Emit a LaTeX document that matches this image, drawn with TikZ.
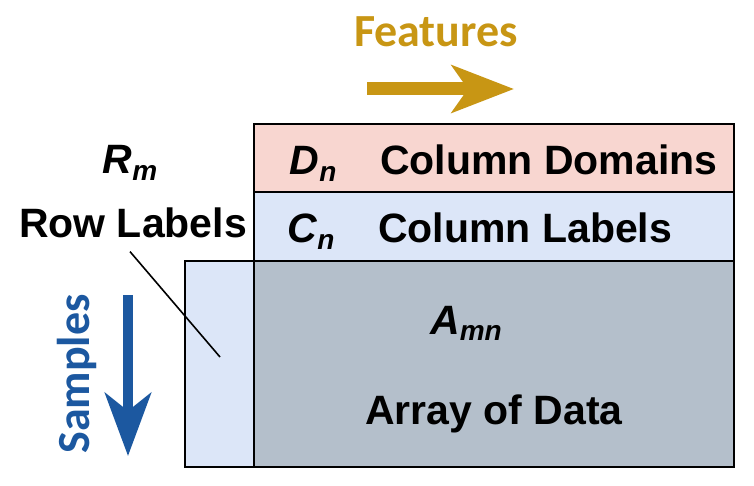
\documentclass[tikz,border=0pt]{standalone}
\usepackage{fontspec}
\setmainfont{Liberation Sans}
\newfontfamily\calibri{Carlito}
\usetikzlibrary{arrows.meta,positioning}

\definecolor{featgold}{RGB}{200,150,20}
\definecolor{sampblue}{RGB}{28,88,160}
\definecolor{dompink}{RGB}{248,214,208}
\definecolor{lablblue}{RGB}{220,230,248}
\definecolor{datagray}{RGB}{180,191,203}

\newcommand{\symb}[2]{\textit{#1}\raisebox{-0.3ex}{\fontsize{28}{30}\selectfont\textit{#2}}}

\tikzset{
  box/.style={draw=black, line width=2.6pt},
  bigtxt/.style={font=\fontsize{41}{48}\selectfont\bfseries, inner sep=0pt},
  axtxt/.style={font=\fontsize{46}{54}\selectfont\calibri\bfseries, inner sep=0pt},
}

\begin{document}
\begin{tikzpicture}[x=1pt,y=-1pt]

      \useasboundingbox (0,0) rectangle (754,486);
      \fill[white] (0,0) rectangle (754,486);

      % Draw the table blocks
      \draw[box, fill=dompink]  (254,124) rectangle (734,192);
      \draw[box, fill=lablblue] (254,192) rectangle (734,261);
      \draw[box, fill=lablblue] (185,261) rectangle (254,467);
      \draw[box, fill=datagray] (254,261) rectangle (734,467);

      \node[bigtxt, anchor=base] (dn) at (313,175) {\symb{D}{n}};
      \node[bigtxt, anchor=base west] (dom) at (380,175) {Column Domains};
      \node[bigtxt, anchor=base] (cn) at (311,243) {\symb{C}{n}};
      \node[bigtxt, anchor=base west] (lab) at (378,243) {Column Labels};

      \node[bigtxt, anchor=base] (amn) at (466,334) {\symb{A}{mn}};
      \node[bigtxt, anchor=base] (arr) at (494,424) {Array of Data};

      % row labels, pointer into the strip
      \node[bigtxt, anchor=base] (rm) at (130,174) {\symb{R}{m}};
      \node[bigtxt, anchor=base] (row) at (133,237) {Row Labels};
      \coordinate (rowtip) at (220,357);
      \draw[line width=1.6pt] ([xshift=-3pt,yshift=-14pt]row.south) -- (rowtip);

      % features arrow
      \node[axtxt, text=featgold, anchor=base] (feat) at (436,47) {Features};
      \coordinate (fa) at (367,89);
      \coordinate (fb) at (514,89);
      \draw[featgold, line width=13pt, -{Stealth[length=62pt,width=47pt,inset=16pt]}] (fa) -- (fb);

      % samples arrow
      \node[axtxt, text=sampblue, rotate=90] (samp) at (77,374) {Samples};
      \coordinate (sa) at (128,295);
      \coordinate (sb) at (128,456);
      \draw[sampblue, line width=10pt, -{Stealth[length=63pt,width=46pt,inset=18pt]}] (sa) -- (sb);

\end{tikzpicture}
\end{document}
